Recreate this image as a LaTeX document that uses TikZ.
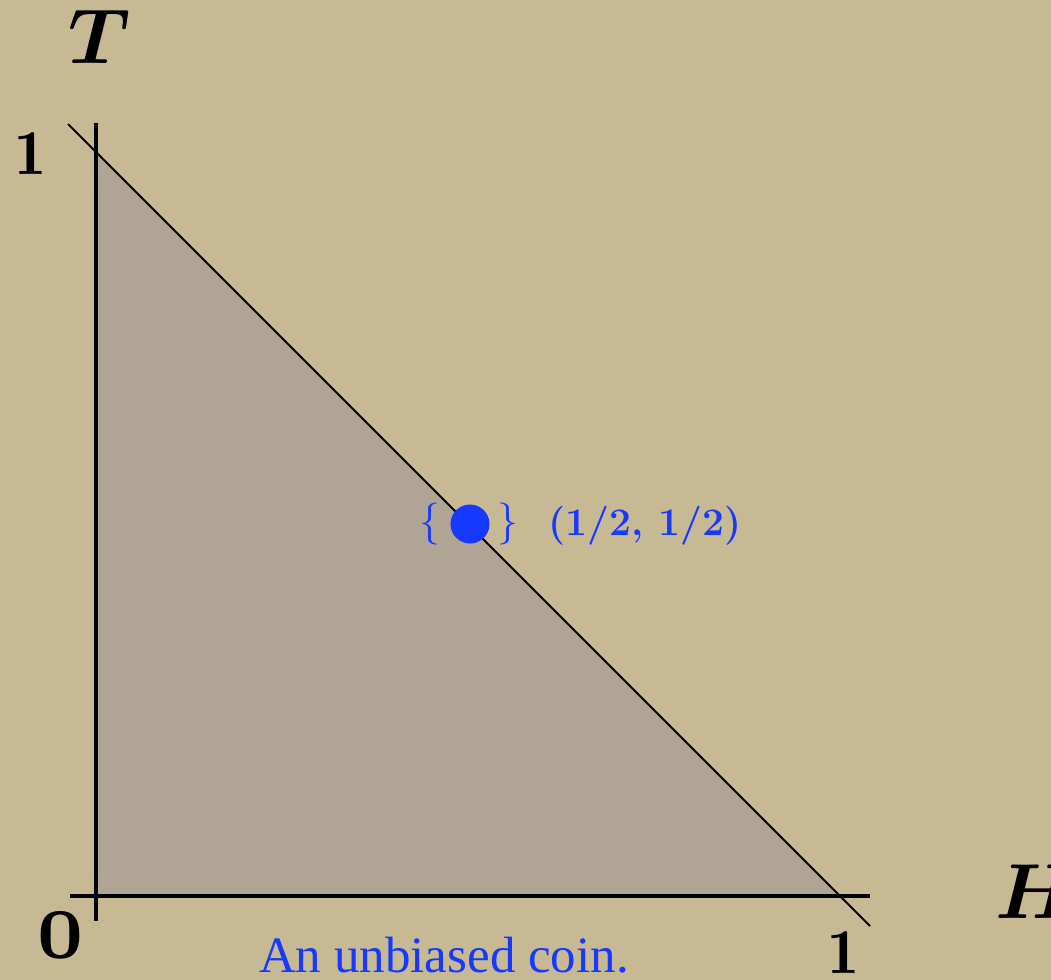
\RequirePackage{fix-cm}
\documentclass[tikz,border=0pt]{standalone}
\usepackage{amsmath,bm}
\usepackage{fontspec}
\newfontfamily\captionfont{Liberation Serif}
\usetikzlibrary{positioning,calc}
\definecolor{paper}{HTML}{C6B994}
\definecolor{region}{HTML}{B0A594}
\definecolor{ink}{HTML}{000000}
\definecolor{coin}{HTML}{1638FF}
\newcommand{\oldzero}{{\usefont{OML}{cmm}{b}{it}0}}
\tikzset{
  axis/.style={line width=2pt,draw=ink},
  simplex/.style={line width=1pt,draw=ink},
  axislabel/.style={inner sep=0pt,text=ink,font=\fontsize{39}{40}\selectfont},
  ticklabel/.style={inner sep=0pt,text=ink,font=\fontsize{32}{34}\selectfont},
  pointlabel/.style={inner sep=0pt,text=coin,font=\fontsize{19.5}{22}\selectfont\bfseries},
  brace/.style={inner sep=0pt,text=coin,font=\fontsize{21}{23}\selectfont},
  caption/.style={inner sep=0pt,text=coin,font=\captionfont\fontsize{25.5}{28}\selectfont}
}

\begin{document}
\begin{tikzpicture}[x=0.5pt,y=-0.5pt]
\useasboundingbox (0,0) rectangle (1051,980);
\fill[paper] (0,0) rectangle (1051,980);

% Corners of the probability simplex
\coordinate (O) at (96,896);
\coordinate (T1) at (96,152);
\coordinate (H1) at (840,896);
\coordinate (Ttop) at (96,123);
\coordinate (Tbot) at (96,921);
\coordinate (Hleft) at (70,896);
\coordinate (Hright) at (870,896);
\coordinate (Dtop) at (68,124);
\coordinate (Dbot) at (870,926);

\fill[region] (T1) -- (O) -- (H1) -- cycle;
\draw[simplex] (Dtop) -- (Dbot);
\draw[axis] (Ttop) -- (Tbot);
\draw[axis] (Hleft) -- (Hright);

% Axis labels
\node[axislabel,anchor=base] (tlab) at (100,63) {$\bm{T}$};
\node[axislabel,anchor=base west] (hlab) at (995,918) {$\bm{H}$};
\node[ticklabel,anchor=base] (tone) at (30,174) {$\mathbf{1}$};
\node[ticklabel,anchor=base] (hone) at (843,973) {$\mathbf{1}$};
\node[ticklabel,anchor=base,font=\fontsize{50}{52}\selectfont,
  xscale=.8,transform shape] (zero) at (60,957) {\oldzero};

% The unbiased coin
\fill[coin] (470,524) circle (19.5) coordinate (mid);
\node[brace] (lbrace) at (430,524) {$\{$};
\node[brace] (rbrace) at (508,524) {$\}$};
\node[pointlabel,anchor=west] (midlab) at (548,526) {(1/2, 1/2)};
\node[caption,anchor=base] (cap) at (444,972) {An unbiased coin.};

\end{tikzpicture}
\end{document}
